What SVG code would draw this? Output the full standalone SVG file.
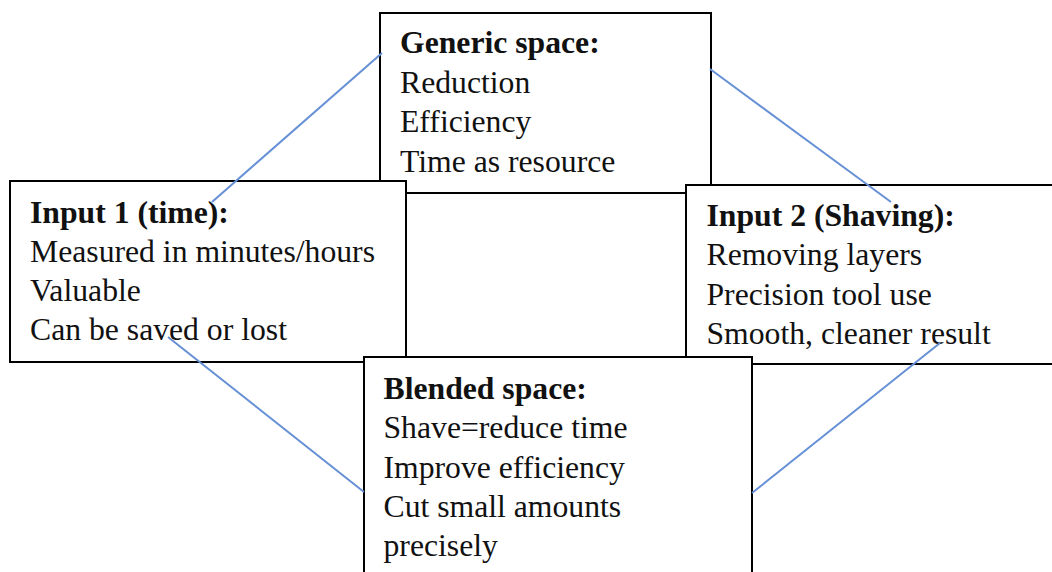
<svg xmlns="http://www.w3.org/2000/svg" width="1052" height="572" viewBox="0 0 1052 572">
<style>
.box{fill:#fff;stroke:#000;stroke-width:2}
text{font-family:"Liberation Serif","Times New Roman",serif;font-size:31.7px;fill:#111}
.t{font-weight:bold}
.conn{stroke:#6690d6;stroke-width:2;fill:none}
</style>
<rect width="1052" height="572" fill="#fff"/>
<g id="generic">
<rect class="box" x="380" y="13" width="331" height="180"/>
<text x="400" y="53" class="t">Generic space:</text>
<text x="400" y="93">Reduction</text>
<text x="400" y="132">Efficiency</text>
<text x="400" y="171.5">Time as resource</text>
</g>
<g id="input1">
<rect class="box" x="10" y="181" width="396" height="181"/>
<text x="30" y="222.5" class="t">Input 1 (time):</text>
<text x="30" y="261.7">Measured in minutes/hours</text>
<text x="30" y="301">Valuable</text>
<text x="30" y="340">Can be saved or lost</text>
</g>
<g id="input2">
<rect class="box" x="686" y="185" width="380" height="179"/>
<text x="706.5" y="225.5" class="t">Input 2 (Shaving):</text>
<text x="706.5" y="265">Removing layers</text>
<text x="706.5" y="304.5">Precision tool use</text>
<text x="706.5" y="343.5">Smooth, cleaner result</text>
</g>
<g id="blended">
<rect class="box" x="364" y="357" width="388" height="230"/>
<text x="383.5" y="399.3" class="t">Blended space:</text>
<text x="383.5" y="438.3">Shave=reduce time</text>
<text x="383.5" y="477.5">Improve efficiency</text>
<text x="383.5" y="516.5">Cut small amounts</text>
<text x="383.5" y="555.5">precisely</text>
</g>
<g id="connectors">
<line class="conn" x1="382" y1="53" x2="212" y2="202"/>
<line class="conn" x1="710" y1="69" x2="891" y2="202"/>
<line class="conn" x1="168" y1="337" x2="364" y2="492"/>
<line class="conn" x1="752" y1="493" x2="940" y2="343"/>
</g>
</svg>
